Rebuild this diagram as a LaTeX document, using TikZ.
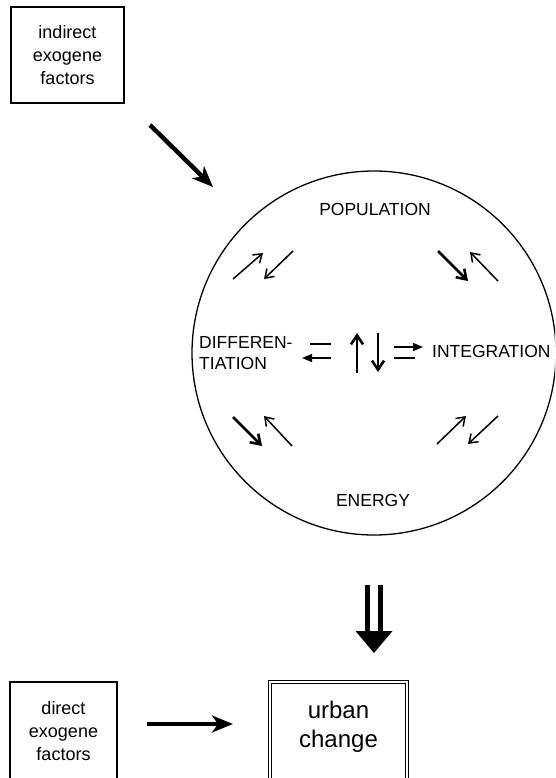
\documentclass[tikz,border=0pt]{standalone}
\usepackage{fontspec}
\setmainfont{Liberation Sans}
\usetikzlibrary{arrows.meta, positioning, calc}
\tikzset{
  factorbox/.style={rectangle, draw, line width=1.2pt, align=center,
    inner sep=0pt, font=\fontsize{18}{23}\selectfont},
  changebox/.style={rectangle, draw, double, double distance=2pt,
    line width=0.9pt, align=center, inner sep=0pt,
    font=\fontsize{24}{29}\selectfont},
  system/.style={circle, draw, line width=1.3pt, inner sep=0pt},
  caplabel/.style={inner sep=0pt, font=\fontsize{17.5}{20.5}\selectfont},
  bigarrow/.style={-{Stealth[length=21pt, width=17pt, inset=6pt]}, line width=4.4pt},
  thinarrow/.style={-{Straight Barb[length=8pt, width=11pt]}, line width=1.5pt},
  thickarrow/.style={-{Straight Barb[length=9pt, width=12pt]}, line width=2.6pt},
  halfarrow/.style={-{Triangle[length=10pt, width=8pt]}, line width=1.6pt},
  halfline/.style={line width=1.6pt}
}
\begin{document}
\begin{tikzpicture}[x=1pt, y=-1pt]
  \useasboundingbox (0,0) rectangle (555,778);
  \clip (0,0) rectangle (555,778);

  % Exogene factors
  \node[factorbox, minimum width=113pt, minimum height=96pt] (indirect) at (67.5,55)
    {indirect\\exogene\\factors};
  \node[factorbox, minimum width=107pt, minimum height=98pt] (direct) at (63.5,731)
    {direct\\exogene\\factors};

  % Urban system
  \node[system, minimum size=364pt] (sys) at (374,353) {};
  \node[caplabel] (pop) at (375,209) {POPULATION};
  \node[caplabel] (energy) at (373,500) {ENERGY};
  \node[caplabel, anchor=west, align=left] (diff) at (199,353) {DIFFEREN-\\TIATION};
  \node[caplabel, anchor=base west] (integ) at (432,357) {INTEGRATION};

  % Urban change
  \node[changebox, minimum width=137pt, minimum height=98pt] (urban) at (338.5,731) {};
  \node[inner sep=0pt, align=center, font=\fontsize{24}{29}\selectfont] (urbantext)
    at (338.5,727) {urban\\change};

  % Main arrows
  \coordinate (instart) at (150,125);
  \coordinate (inend) at (213,187);
  \draw[bigarrow] (instart) -- (inend);
  \coordinate (dstart) at (147,724);
  \coordinate (dend) at (233,724);
  \draw[bigarrow] (dstart) -- (dend);

  % Double arrow to urban change
  \coordinate (dbltop) at (374,585);
  \coordinate (dbltip) at (374,653);
  \draw[line width=5pt, double distance=8pt] (dbltop) -- ($(dbltip)+(0,-20)$);
  \fill ($(dbltip)+(-18.5,-22)$) -- ($(dbltip)+(18.5,-22)$) -- (dbltip) -- cycle;

  % Population -- differentiation
  \draw[thinarrow] (233,279) -- (263,253);
  \draw[thinarrow] (293,251) -- (264,279);
  % Population -- integration
  \draw[thickarrow] (438,251) -- (468,281);
  \draw[thinarrow] (498,281) -- (470,252);
  % Energy -- differentiation
  \draw[thickarrow] (233,417) -- (262,446);
  \draw[thinarrow] (292,446) -- (264,416);
  % Energy -- integration
  \draw[thinarrow] (437,444) -- (466,416);
  \draw[thinarrow] (498,416) -- (468,444);

  % Centre
  \draw[halfline] (310,344) -- (331,344);
  \draw[halfarrow] (331,358) -- (302,358);
  \draw[thickarrow] (357,373) -- (357,333);
  \draw[thickarrow] (378,333) -- (378,372);
  \draw[halfarrow] (394,347) -- (423,347);
  \draw[halfline] (394,358) -- (415,358);
\end{tikzpicture}
\end{document}
